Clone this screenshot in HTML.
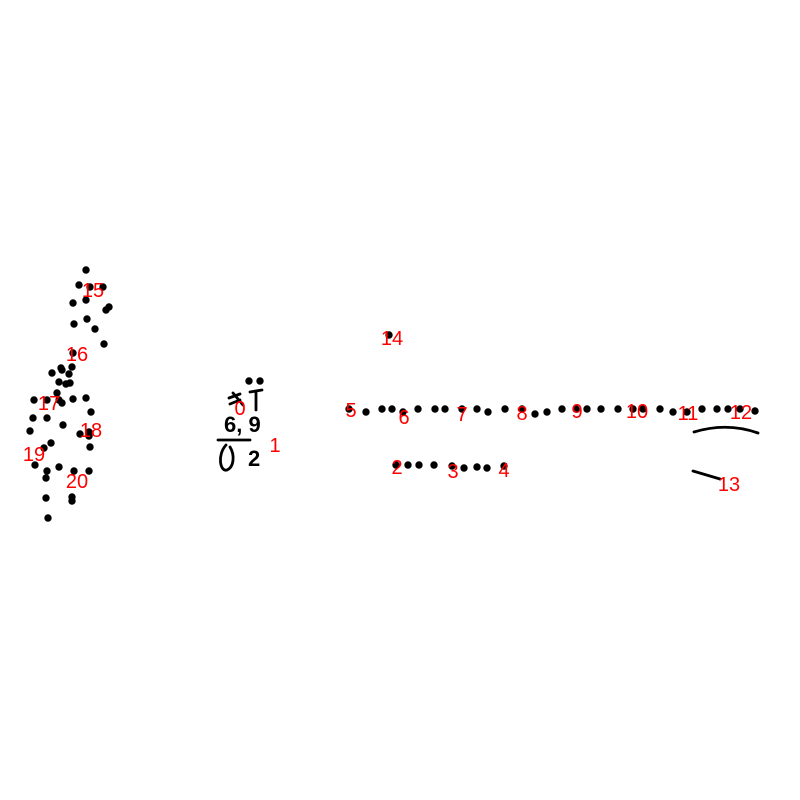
<!DOCTYPE html>
<html><head><meta charset="utf-8"><style>
html,body{margin:0;padding:0;background:#fff;width:800px;height:800px;overflow:hidden}
svg{display:block}
</style></head><body>
<svg id="chart" width="800" height="800" viewBox="0 0 800 800">
<g id="dots"></g>
<g fill="none" stroke="#000" stroke-width="2.8" stroke-linecap="round">
<path d="M229,398 L240,394 M233,393 L243,405 M230,404 L240,400"/>
<path d="M250,392 L262,390 M256,391 L256,410"/>
<path d="M218,440 L250,440"/>
<path d="M226,445 C217,455 220,472 227,470 C234,467 235,455 230,447"/>
<path d="M694,432 Q727,422 758,433"/>
<path d="M693,471 L720,479"/>
</g>
<text x="224" y="432" font-family="Liberation Sans, sans-serif" font-size="22" font-weight="bold" fill="#000">6, 9</text>
<text x="248" y="466" font-family="Liberation Sans, sans-serif" font-size="22" font-weight="bold" fill="#000">2</text>
<g id="labels"></g>
</svg>
<script>
const xs = [86,79,90,103,73,86,106,109,74,87,95,104,73,52,61,62,72,69,59,66,70,57,34,47,59,62,73,86,91,33,47,63,30,80,89,89,51,44,90,35,47,46,59,74,89,46,72,72,48,
389,
349,366,382,392,403,418,435,445,462,477,488,505,522,535,547,562,576,587,601,618,633,643,660,673,687,702,717,728,740,755,
396,408,419,434,452,464,477,487,504,
249,260];
const ys = [270,285,287,287,303,300,310,307,324,319,329,344,353,373,368,370,367,374,382,384,383,393,400,400,400,403,399,398,412,418,418,425,431,434,432,436,443,448,447,465,471,478,467,471,471,498,497,501,518,
335,
409,412,409,409,412,409,409,409,409,409,412,409,409,414,412,409,409,409,409,409,409,409,409,412,412,409,409,409,409,411,
465,465,465,465,466,468,467,468,466,
381,381];
const labelText = ["0","1","2","3","4","5","6","7","8","9","10","11","12","13","14","15","16","17","18","19","20"];
const labelX = [240,275,397,453,504,351,404,462,522,577,637,688,741,729,392,93,77,49,91,34,77];
const labelY = [408,445,467,471,470,410,417,414,413,411,411,413,412,484,338,290,354,403,430,454,481];
const NS="http://www.w3.org/2000/svg";
const dotsG=document.getElementById('dots');
for(let i=0;i<xs.length;i++){
  const c=document.createElementNS(NS,'circle');
  c.setAttribute('cx',xs[i]);c.setAttribute('cy',ys[i]);c.setAttribute('r',3.7);c.setAttribute('fill','#000');
  
  
  dotsG.appendChild(c);
}
const labG=document.getElementById('labels');
for(let i=0;i<labelText.length;i++){
  const t=document.createElementNS(NS,'text');
  t.setAttribute('x',labelX[i]);t.setAttribute('y',labelY[i]+7);
  t.setAttribute('text-anchor','middle');t.setAttribute('fill','#ff0000');
  t.setAttribute('font-family','Liberation Sans, sans-serif');t.setAttribute('font-size','20');
  t.textContent=labelText[i];
  
  
  labG.appendChild(t);
}
</script>
</body></html>
